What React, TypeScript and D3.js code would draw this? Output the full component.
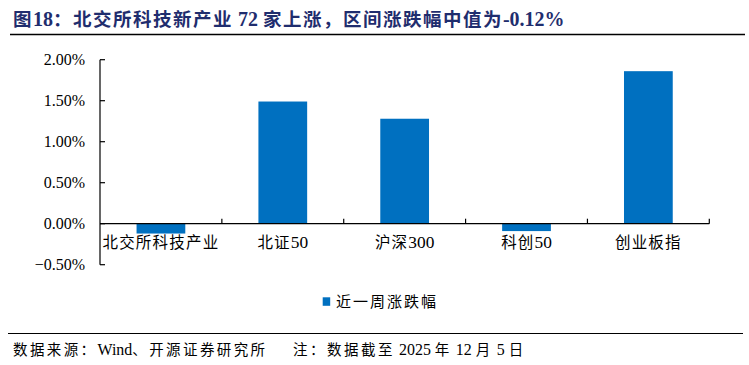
import React from "react";
import * as d3 from "d3";

const categories = ["北交所科技产业", "北证50", "沪深300", "科创50", "创业板指"];
const weeklyChange = [-0.12, 1.49, 1.28, -0.09, 1.86];
const yTicks = [-0.5, 0, 0.5, 1.0, 1.5, 2.0];
const seriesName = "近一周涨跌幅";
const title = "图18：北交所科技新产业 72 家上涨，区间涨跌幅中值为-0.12%";
const footerSource = "数据来源：Wind、开源证券研究所";
const footerNote = "注：数据截至 2025 年 12 月 5 日";

const W = 749;
const H = 365;
const BAR = "#0070C0";
const NAVY = "#1F2D6E";
const CJK = "'Noto Sans CJK SC', 'Liberation Serif', serif";
const SERIF = "'Liberation Serif', 'Times New Roman', serif";

// split text into runs of CJK / Latin so Latin parts can use a serif font
function runs(s: string) {
  const out: { t: string; cjk: boolean }[] = [];
  for (const ch of s) {
    const cjk = /[\u3000-\u9fff\uff00-\uffef]/.test(ch);
    const last = out[out.length - 1];
    if (last && last.cjk === cjk) last.t += ch;
    else out.push({ t: ch, cjk });
  }
  return out;
}

function Mixed({ s, latinScale = 1.08, cjkSpacing = 0 }: { s: string; latinScale?: number; cjkSpacing?: number }) {
  return (
    <>
      {runs(s).map((r, i) => (
        <tspan
          key={i}
          fontFamily={r.cjk ? CJK : SERIF}
          fontSize={r.cjk ? undefined : `${latinScale}em`}
          letterSpacing={r.cjk ? cjkSpacing : 0}
        >
          {r.t}
        </tspan>
      ))}
    </>
  );
}

export default function App() {
  const left = 100;
  const right = 709.3;
  const x = d3.scaleBand<string>().domain(categories).range([left, right]).paddingInner(0.6).paddingOuter(0.3);
  const y = d3.scaleLinear().domain([-0.5, 2.0]).range([264.7, 59.7]);
  const y0 = y(0);
  const step = (right - left) / categories.length;

  return (
    <svg width={W} height={H} style={{ position: "absolute", left: 0, top: 0, background: "#fff" }}>
      <text x={13} y={26} fontFamily={CJK} fontWeight="bold" fontSize={18.5} fill={NAVY}>
        <Mixed s={title} latinScale={1.08} cjkSpacing={1.5} />
      </text>
      <line x1={10} x2={745} y1={34.5} y2={34.5} stroke="#000" strokeWidth={1.5} />

      {/* y axis */}
      <line x1={left} x2={left} y1={y(2.0)} y2={y(-0.5)} stroke="#000" strokeWidth={1.2} />
      {yTicks.map((t) => (
        <g key={t}>
          <line x1={left} x2={left + 5} y1={y(t)} y2={y(t)} stroke="#000" strokeWidth={1.2} />
          <text x={85} y={y(t)} dy="0.35em" textAnchor="end" fontFamily={SERIF} fontSize={16} fill="#000">
            {d3.format(".2f")(t) + "%"}
          </text>
        </g>
      ))}

      {/* bars */}
      {categories.map((c, i) => {
        const v = weeklyChange[i];
        return (
          <rect
            key={c}
            x={x(c)}
            width={x.bandwidth()}
            y={Math.min(y(v), y0)}
            height={Math.abs(y(v) - y0)}
            fill={BAR}
          />
        );
      })}

      {/* x axis */}
      <line x1={left} x2={right} y1={y0} y2={y0} stroke="#000" strokeWidth={1.2} />
      {categories.map((c, i) => (
        <line key={"t" + c} x1={left + step * (i + 1)} x2={left + step * (i + 1)} y1={y0} y2={y0 - 5} stroke="#000" strokeWidth={1.2} />
      ))}
      {categories.map((c) => (
        <text
          key={"l" + c}
          x={(x(c) as number) + x.bandwidth() / 2}
          y={248}
          textAnchor="middle"
          fontFamily={CJK}
          fontSize={15.5}
          fill="#000"
        >
          <Mixed s={c} latinScale={1.12} cjkSpacing={1.2} />
        </text>
      ))}

      {/* legend */}
      <rect x={322.7} y={297.3} width={7.5} height={8.5} fill={BAR} />
      <text x={336} y={306.5} fontFamily={CJK} fontSize={15} textLength={100} lengthAdjust="spacing" fill="#000">
        {seriesName}
      </text>

      <line x1={8} x2={743} y1={333.5} y2={333.5} stroke="#000" strokeWidth={1.2} />
      <text x={13} y={355} fontFamily={CJK} fontSize={14.5} fill="#000">
        <Mixed s={footerSource} latinScale={1.1} cjkSpacing={2.4} />
      </text>
      <text x={293} y={355} fontFamily={CJK} fontSize={14.5} fill="#000">
        <Mixed s={footerNote} latinScale={1.1} cjkSpacing={2.5} />
      </text>
    </svg>
  );
}
